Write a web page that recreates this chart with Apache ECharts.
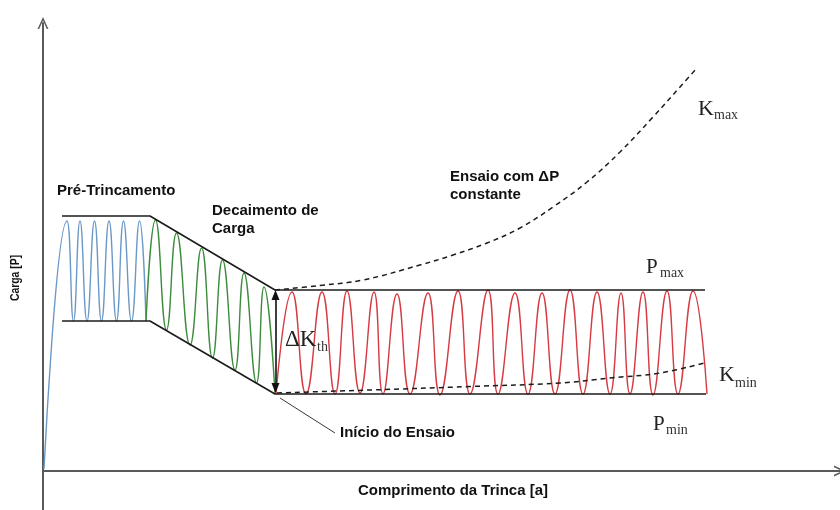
<!DOCTYPE html>
<html>
<head>
<meta charset="utf-8">
<script src="https://cdn.jsdelivr.net/npm/echarts@6/dist/echarts.min.js"></script>
<style>
  html, body { margin: 0; padding: 0; background: #ffffff; }
  #chart { width: 840px; height: 510px; }
</style>
</head>
<body>
<div id="chart"></div>
<script>
// Schematic load history of a threshold (ΔKth) fatigue-crack test.
// x = crack length [a], y = load [P], both in arbitrary schematic units.

// Pre-cracking: rise from zero, then constant-amplitude cycles
const preCrackX    = [1, 24, 30.5, 37, 44, 51.5, 58.5, 66, 73.5, 80.5, 88.5, 96.5, 103];
const preCrackLoad = [2, 250, 150, 250, 150, 250, 150, 250, 150, 250, 150, 250, 150];

// Load shedding: cycles with a decreasing load envelope
const sheddingX    = [103, 112.5, 123.5, 133.5, 147, 158.5, 169.5, 179.5, 192, 201, 213.5, 221, 232];
const sheddingLoad = [150, 251, 141, 238, 126, 223, 113, 211, 101, 198, 88, 184, 78];

// Test at constant ΔP
const testX    = [233, 249, 263, 279, 292, 304, 317, 331, 340, 354, 367, 385, 397, 415, 427, 445, 455,
                  472, 485, 499, 512, 527, 540, 554, 567, 578, 587, 600, 610, 624, 635, 650, 664];
const testLoad = [77, 179, 77, 179, 77, 180, 78, 179, 77, 177, 77, 178, 76, 180, 77, 181, 77,
                  178, 77, 178, 77, 181, 77, 179, 77, 178, 77, 179, 76, 180, 77, 180, 77];

// Load envelopes (Pmax / Pmin)
const pmaxX = [19, 107, 232, 662];
const pmaxLoad = [255, 255, 181, 181];
const pminX = [19, 107, 232, 663];
const pminLoad = [150, 150, 77, 77];

// Stress-intensity trends under constant ΔP
const kmaxX = [232, 277, 320, 377, 410, 444, 477, 510, 544, 577, 610, 637, 654];
const kmaxLoad = [181, 185.5, 191, 206, 216, 228, 243, 264, 289, 319, 354, 384, 403];
const kminX = [234, 327, 427, 517, 567, 617, 663];
const kminLoad = [78, 81, 84.5, 88, 93, 98, 108.5];

// ΔKth range marker and the "test start" pointer
const deltaKX = 232.5;
const deltaKRange = [181, 78];
const startPointer = [[237, 73], [292, 38]];

const zip = (xs, ys) => xs.map((x, i) => [x, ys[i]]);

const SANS = '"Liberation Sans", Arial, sans-serif';
const SERIF = '"Liberation Serif", "Times New Roman", serif';
const INK = '#111111';
const AXIS = '#5a5a5a';
const CHEVRON = 'path://M5,0 L10,11 L8.5,11 L5,3.3 L1.5,11 L0,11 Z';

function text(str, x, y, font, opts) {
  opts = opts || {};
  return {
    type: 'text', x: x, y: y, z: 100, silent: true,
    rotation: opts.rotation || 0, scaleX: opts.scaleX || 1,
    style: { text: str, font: font, fill: opts.fill || INK,
             align: opts.align || 'left', verticalAlign: 'middle' }
  };
}

function wave(name, xs, ys, color) {
  return {
    name: name, type: 'line', data: zip(xs, ys),
    smooth: 0.5, showSymbol: false, symbol: 'none',
    lineStyle: { color: color, width: 1.4 }, z: 3, silent: true
  };
}

function straight(name, xs, ys, style) {
  return {
    name: name, type: 'line', data: zip(xs, ys), showSymbol: false, symbol: 'none',
    lineStyle: style, z: 4, silent: true
  };
}

const chart = echarts.init(document.getElementById('chart'), null, { renderer: 'canvas' });

chart.setOption({
  animation: false,
  backgroundColor: '#ffffff',
  grid: { left: 43, right: 0, top: 23, bottom: 0, containLabel: false },
  xAxis: {
    type: 'value', min: 0, max: 797,
    axisLine: { onZero: true, symbol: ['none', CHEVRON], symbolSize: [11, 12],
                lineStyle: { color: AXIS, width: 2 } },
    axisTick: { show: false }, axisLabel: { show: false }, splitLine: { show: false }
  },
  yAxis: {
    type: 'value', min: -39, max: 448,
    axisLine: { onZero: false, symbol: ['none', CHEVRON], symbolSize: [11, 12],
                lineStyle: { color: AXIS, width: 2 } },
    axisTick: { show: false }, axisLabel: { show: false }, splitLine: { show: false }
  },
  series: [
    straight('Pmax', pmaxX, pmaxLoad, { color: '#1c1c1c', width: 1.6 }),
    straight('Pmin', pminX, pminLoad, { color: '#1c1c1c', width: 1.6 }),
    wave('Pré-Trincamento', preCrackX, preCrackLoad, '#6b98c7'),
    wave('Decaimento de Carga', sheddingX, sheddingLoad, '#3d8b3d'),
    Object.assign(wave('Ensaio', testX, testLoad, '#d63a42'), {
      markLine: {
        silent: true, symbol: ['triangle', 'triangle'], symbolSize: [8, 10],
        label: { show: false },
        lineStyle: { color: '#111111', width: 1.6, type: 'solid' },
        data: [[{ coord: [deltaKX, deltaKRange[0] - 5] }, { coord: [deltaKX, deltaKRange[1] + 5] }]]
      }
    }),
    Object.assign(straight('Kmax', kmaxX, kmaxLoad, { color: '#1c1c1c', width: 1.5, type: [5, 4] }), { smooth: 0.4 }),
    Object.assign(straight('Kmin', kminX, kminLoad, { color: '#1c1c1c', width: 1.5, type: [5, 4] }), { smooth: 0.4 }),
    straight('Início do Ensaio', startPointer.map(p => p[0]), startPointer.map(p => p[1]),
             { color: '#222222', width: 0.9 })
  ],
  graphic: [
    text('Pré-Trincamento', 57, 191, 'bold 15px ' + SANS),
    text('Decaimento de', 212, 211, 'bold 15px ' + SANS),
    text('Carga', 212, 229, 'bold 15px ' + SANS),
    text('Ensaio com ΔP', 450, 177, 'bold 15px ' + SANS),
    text('constante', 450, 195, 'bold 15px ' + SANS),
    text('Início do Ensaio', 340, 433, 'bold 15px ' + SANS),
    text('Comprimento da Trinca [a]', 453, 491, 'bold 15px ' + SANS, { align: 'center' }),
    text('Carga [P]', 15, 278, 'bold 13px ' + SANS, { align: 'center', rotation: Math.PI / 2, scaleX: 0.8 }),

    text('K', 698, 109.6, '22px ' + SERIF, { fill: '#222' }),
    text('max', 714, 115.3, '14px ' + SERIF, { fill: '#333' }),
    text('P', 646, 267.9, '21px ' + SERIF, { fill: '#222' }),
    text('max', 660, 273.3, '14px ' + SERIF, { fill: '#333' }),
    text('K', 719, 375.6, '22px ' + SERIF, { fill: '#222' }),
    text('min', 735, 383.3, '14px ' + SERIF, { fill: '#333' }),
    text('P', 653, 424.9, '21px ' + SERIF, { fill: '#222' }),
    text('min', 666, 430.8, '14px ' + SERIF, { fill: '#333' }),
    text('ΔK', 285, 340.2, '23px ' + SERIF, { fill: '#222' }),
    text('th', 317, 347, '14px ' + SERIF, { fill: '#333' })
  ]
});
</script>
</body>
</html>
